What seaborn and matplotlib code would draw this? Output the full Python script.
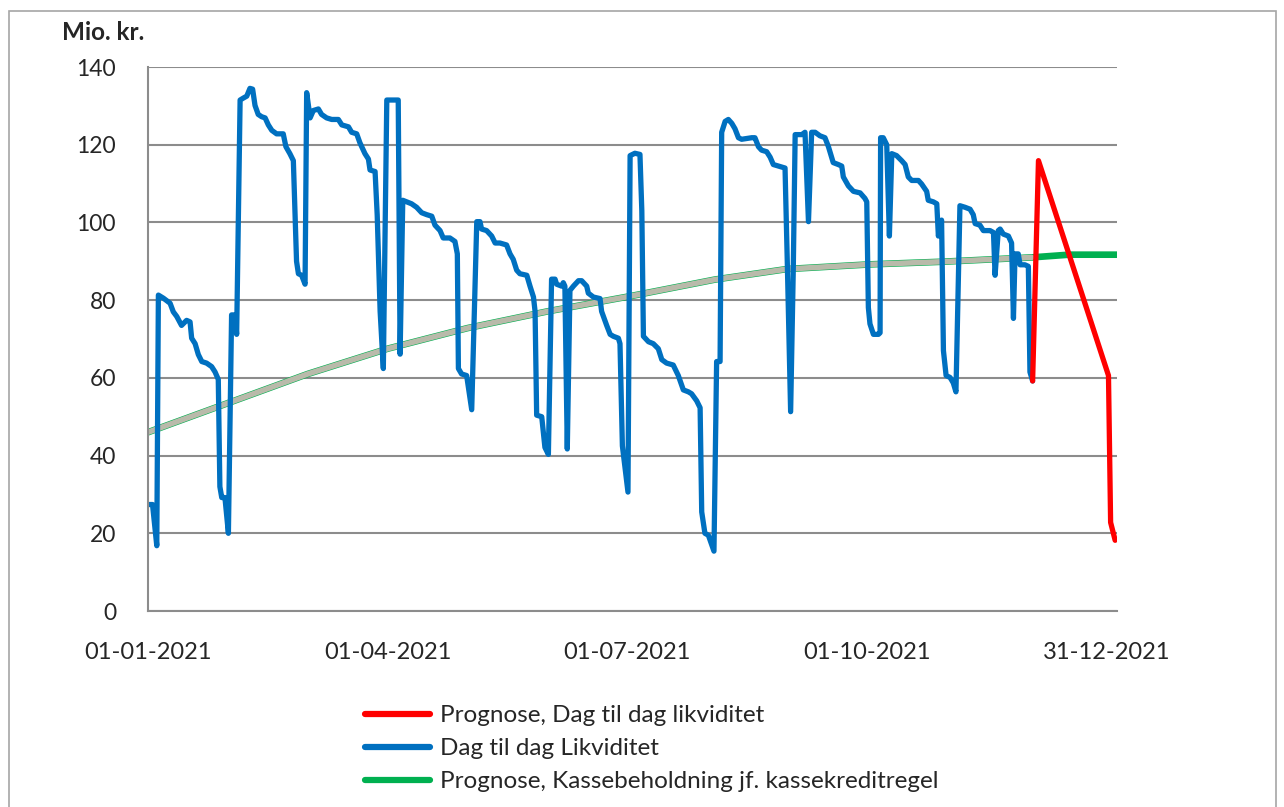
import matplotlib
matplotlib.use("Agg")
import matplotlib.pyplot as plt
from matplotlib.lines import Line2D
from matplotlib.patches import Rectangle
import numpy as np
import pandas as pd
import seaborn as sns

# day index in 2021 (0 = 01-01-2021) and balance in mio. kr.
likv_days = [0, 1.7, 3.3, 3.9, 5.8, 8.3, 9.5, 10.8, 12.6, 14.5, 15.8, 16.4, 17.7, 18.9, 20.2, 22.0, 23.9, 25.2,
             26.4, 27.0, 27.7, 28.9, 30.2, 31.4, 32.7, 33.3, 34.6, 35.8, 37.1, 38.3, 39.3, 40.2, 41.4, 42.7, 44.0,
             45.2, 46.5, 48.3, 50.8, 51.8, 53.3, 54.6, 55.8, 56.5, 57.7, 59.0, 59.6, 60.9, 62.1, 64.0, 65.2, 67.1,
             69.0, 71.5, 72.8, 75.3, 76.5, 78.4, 79.6, 81.5, 82.8, 83.4, 85.3, 86.1, 87.2, 88.4,
             89.7, 94.0, 94.7, 95.7, 97.2, 99.0, 100.9, 102.8, 104.7, 106.6, 107.8, 109.7, 110.9, 113.4, 115.3,
             116.2, 116.6, 117.8, 119.7, 121.6, 123.5, 124.7, 125.3, 127.2, 129.1, 130.4, 132.2, 134.7, 136.0,
             137.2, 138.5, 139.7, 142.3, 143.5, 144.8, 145.4, 146.0, 147.9, 149.1, 150.4, 151.6, 152.9, 153.5,
             155.4, 156.0, 156.6, 157.5, 158.5, 159.8, 161.7, 162.9, 164.8, 165.4, 167.3, 169.8, 170.4, 172.3,
             173.6, 174.8, 176.7, 177.3, 178.2, 180.3, 181.1,
             182.9, 184.8, 185.5, 186.1, 188.0, 189.8, 191.7, 193.0, 194.8, 197.3, 199.2, 201.1, 203.0, 204.2,
             206.1, 207.4, 208.0, 209.2, 210.5, 212.6, 213.6, 214.9, 215.5, 216.8, 218.0, 219.3, 220.5, 221.8,
             223.0, 226.8, 228.0, 229.3, 230.5, 232.4, 233.7, 234.9, 236.8, 239.3, 240.2, 241.4, 242.4, 243.1,
             245.6, 246.8, 248.1, 249.3, 250.6, 252.4, 254.3, 255.6, 257.4, 259.3, 260.6, 261.2, 263.1, 265.0,
             267.5, 269.3, 270.0, 270.6, 271.2,
             272.5, 274.4, 275.0, 275.2, 276.2, 277.5, 278.5, 279.4, 281.2, 283.1, 284.4, 285.6, 286.9, 289.4,
             290.6, 292.5, 293.1, 295.0, 296.3, 296.9, 298.1, 298.8, 299.8, 301.3, 302.5, 303.5, 305.0, 306.9,
             308.8, 310.0, 310.7, 312.5, 313.8, 316.3, 317.6, 318.2, 319.4, 320.1, 321.3, 323.2, 324.4, 325.1,
             325.7, 326.9, 327.6, 329.4, 330.7, 331.3, 332.3]
likv_vals = [27.4, 27.4, 16.8, 81.3, 80.5, 79.2, 77.0, 75.8, 73.5, 74.8, 74.4, 70.2, 68.8, 66.0, 64.2, 63.8, 62.9, 61.5,
             59.6, 32.0, 29.2, 29.2, 20.0, 76.2, 76.2, 71.2, 131.5, 132.0, 132.5, 134.5, 134.3, 130.1, 127.8, 127.2,
             126.9, 125.1, 123.7, 122.8, 122.8, 119.5, 117.7, 115.9, 90.0, 86.8, 86.4, 84.1, 133.4, 126.9, 128.8,
             129.2, 127.8, 126.9, 126.5, 126.5, 125.1, 124.6, 123.2, 122.8, 120.5, 117.7, 116.3, 113.5, 113.1,
             101.9, 77.1, 62.4,
             131.5, 131.5, 66.1, 105.7, 105.3, 104.8, 103.9, 102.5, 102.0, 101.6, 99.3, 97.9, 96.0, 96.0, 95.1,
             91.9, 62.4, 61.0, 60.6, 51.8, 100.2, 100.2, 98.3, 97.9, 96.5, 94.7, 94.7, 94.2, 91.9,
             90.5, 87.7, 86.8, 86.4, 83.6, 80.8, 77.1, 50.4, 50.0, 42.1, 40.3, 85.4, 85.4, 84.1,
             83.6, 84.5, 83.6, 41.7, 82.5, 83.6, 85.0, 85.0, 83.6, 81.8, 80.8, 80.4, 77.1, 73.5,
             71.2, 70.7, 70.2, 68.8, 42.5, 30.6, 117.2,
             117.8, 117.5, 103.0, 70.7, 69.3, 68.8, 67.5, 64.7, 63.8, 63.3, 60.6, 56.9, 56.4, 55.9,
             54.1, 52.3, 25.5, 20.0, 19.5, 15.4, 64.2, 64.2, 123.2, 126.0, 126.5, 125.5, 124.1, 121.8,
             121.4, 121.8, 121.8, 119.5, 118.6, 118.2, 116.8, 114.9, 114.5, 114.0, 88.2, 51.3, 88.2, 122.6,
             122.6, 123.2, 100.2, 123.2, 123.2, 122.3, 121.8, 119.5, 115.4, 114.9, 114.5, 111.7, 109.4, 108.0,
             107.6, 106.2, 105.3, 78.1, 73.9,
             71.2, 71.2, 71.6, 121.8, 121.8, 120.0, 96.5, 117.7, 117.2, 115.9, 114.9, 111.7, 110.8, 110.8,
             109.9, 108.0, 105.7, 105.3, 104.8, 96.5, 100.6, 67.0, 60.6, 60.1, 58.7, 56.4, 104.3, 103.9,
             103.4, 102.0, 99.7, 99.3, 97.9, 97.9, 97.4, 86.4, 97.9, 98.3, 97.0, 96.5, 94.7, 75.3,
             91.9, 91.9, 89.1, 89.1, 88.7, 61.5, 59.2]

prog_days = [332.3, 334.5, 360.8, 361.6, 363.3]
prog_vals = [59.2, 115.9, 60.6, 22.8, 18.2]

kasse_days = [0, 30, 60, 90, 120, 150, 181, 213, 240, 271, 299, 332, 346, 364]
kasse_vals = [46.0, 53.5, 61.0, 67.5, 72.8, 77.1, 81.0, 85.3, 88.0, 89.2, 89.9, 91.0, 91.7, 91.7]

tick_days = [0, 90, 180, 270, 360]
tick_labels = ["01-01-2021", "01-04-2021", "01-07-2021", "01-10-2021", "31-12-2021"]

labels = ["Prognose, Dag til dag likviditet", "Dag til dag Likviditet",
          "Prognose, Kassebeholdning jf. kassekreditregel"]
colors = {"red": "#FF0000", "blue": "#0070C0", "green": "#00B050", "grey": "#B9BAAA"}

sns.set_style("white")
plt.rcParams["font.family"] = ["Lato", "DejaVu Sans"]

likv = pd.DataFrame({"dag": likv_days, "mio": likv_vals})
prog = pd.DataFrame({"dag": prog_days, "mio": prog_vals})
kasse = pd.DataFrame({"dag": kasse_days, "mio": kasse_vals})

fig = plt.figure(figsize=(12.84, 8.07), dpi=100)
ax = fig.add_axes([148 / 1284, 1 - 611 / 807, (1117 - 148) / 1284, (611 - 67) / 807])

line_kw = dict(ax=ax, sort=False, estimator=None, solid_joinstyle="round", solid_capstyle="round")
sns.lineplot(data=kasse, x="dag", y="mio", color=colors["green"], linewidth=4.8, **line_kw)
sns.lineplot(data=kasse[kasse["dag"] <= 332.3], x="dag", y="mio", color=colors["grey"],
             linewidth=4.0, **line_kw)
sns.lineplot(data=likv, x="dag", y="mio", color=colors["blue"], linewidth=3.8, **line_kw)
sns.lineplot(data=prog, x="dag", y="mio", color=colors["red"], linewidth=3.8, **line_kw)

ax.set_xlim(0, 364)
ax.set_ylim(0, 140)
ax.set_yticks(np.arange(0, 141, 20))
ax.set_xticks(tick_days)
ax.set_xticklabels(tick_labels)
ax.set_xlabel("")
ax.set_ylabel("")
ax.grid(axis="y", color="#8C8C8C", linewidth=1.5)
ax.set_axisbelow(True)
for side in ["top", "right"]:
    ax.spines[side].set_visible(False)
for side in ["left", "bottom"]:
    ax.spines[side].set_color("#8C8C8C")
    ax.spines[side].set_linewidth(1.5)
ax.tick_params(axis="y", length=7, width=1.5, color="#8C8C8C", pad=16, labelsize=16.5)
ax.tick_params(axis="x", length=0, pad=22, labelsize=17)

fig.text(62 / 1284, 1 - 32 / 807, "Mio. kr.", fontsize=17.5, fontweight="bold", va="center", ha="left")

handles = [Line2D([], [], color=c, linewidth=4.5, solid_capstyle="round")
           for c in (colors["red"], colors["blue"], colors["green"])]
fig.legend(handles, labels, loc="upper left", bbox_to_anchor=(365 / 1284, 1 - 705 / 807),
           frameon=False, fontsize=17.5, handlelength=2.67, handletextpad=0.41, labelspacing=0.5,
           borderaxespad=0, borderpad=0)

fig.patches.append(Rectangle((9 / 1284, -0.02), (1276 - 9) / 1284, 1.02 - 11 / 807,
                             transform=fig.transFigure, fill=False, edgecolor="#A6A6A6", linewidth=1.2))

fig.savefig("out.png", dpi=100)
